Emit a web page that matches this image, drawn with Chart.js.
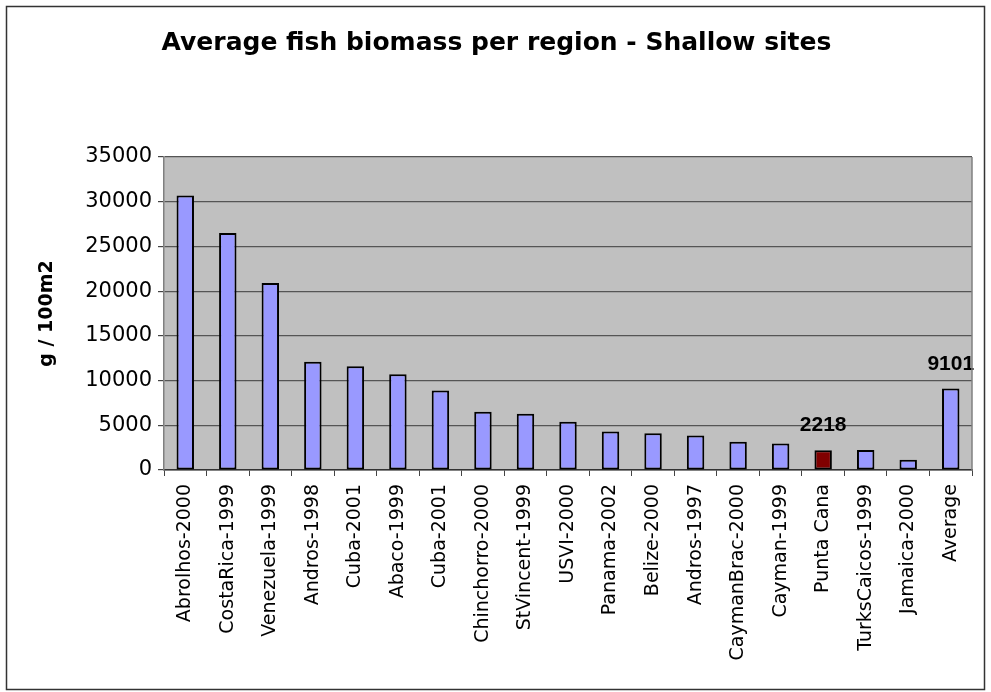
<!DOCTYPE html>
<html>
<head>
<meta charset="utf-8">
<title>Average fish biomass per region - Shallow sites</title>
<script src="https://cdn.jsdelivr.net/npm/chart.js@4.4.1/dist/chart.umd.min.js"></script>
<style>
  html, body { margin: 0; padding: 0; background: #ffffff; }
  #wrap { width: 991px; height: 692px; position: relative; }
</style>
</head>
<body>
<div id="wrap"><canvas id="chart" width="991" height="692"></canvas></div>
<script>
// Survey regions (with survey year), shallow sites
const regions = [
  'Abrolhos-2000', 'CostaRica-1999', 'Venezuela-1999', 'Andros-1998', 'Cuba-2001',
  'Abaco-1999', 'Cuba-2001', 'Chinchorro-2000', 'StVincent-1999', 'USVI-2000',
  'Panama-2002', 'Belize-2000', 'Andros-1997', 'CaymanBrac-2000', 'Cayman-1999',
  'Punta Cana', 'TurksCaicos-1999', 'Jamaica-2000', 'Average'
];

// Average fish biomass, g / 100m2
const biomass = [
  30700, 26500, 20900, 12100, 11600,
  10700, 8900, 6500, 6300, 5400,
  4300, 4100, 3850, 3150, 2950,
  2218, 2250, 1150, 9101
];

// Region drawn in the highlight colour
const highlightRegion = 'Punta Cana';

// Bars whose value is printed above them
const labelledRegions = ['Punta Cana', 'Average'];

// Y axis range and step
const yMin = 0;
const yMax = 35000;
const yStep = 5000;

const titleText = 'Average fish biomass per region - Shallow sites';
const yTitle = 'g / 100m2';

const barColors = regions.map(r => r === highlightRegion ? '#800000' : '#9999ff');

// White page, frame, grey plot area and the heading
const framePlugin = {
  id: 'frame',
  beforeDraw(chart) {
    const { ctx, chartArea: a } = chart;
    ctx.save();
    ctx.fillStyle = '#ffffff';
    ctx.fillRect(0, 0, chart.width, chart.height);
    ctx.fillStyle = '#c0c0c0';
    ctx.fillRect(a.left, a.top, a.right - a.left, a.bottom - a.top);
    ctx.restore();
  },
  afterDraw(chart) {
    const { ctx, chartArea: a } = chart;
    ctx.save();
    // plot area right edge
    ctx.strokeStyle = '#808080';
    ctx.lineWidth = 1.5;
    ctx.beginPath();
    ctx.moveTo(a.right, a.top);
    ctx.lineTo(a.right, a.bottom);
    ctx.stroke();
    // outer frame
    ctx.strokeStyle = '#333333';
    ctx.lineWidth = 1.5;
    ctx.strokeRect(6.5, 6.5, chart.width - 13, chart.height - 9);
    // heading
    ctx.fillStyle = '#000000';
    ctx.font = 'bold 25px "DejaVu Sans"';
    ctx.textAlign = 'center';
    ctx.textBaseline = 'alphabetic';
    ctx.fillText(titleText, chart.width / 2 + 1, 50);
    ctx.restore();
  }
};

// Values printed above selected bars
const valueLabelPlugin = {
  id: 'valueLabels',
  afterDatasetsDraw(chart) {
    const { ctx } = chart;
    const meta = chart.getDatasetMeta(0);
    ctx.save();
    ctx.fillStyle = '#000000';
    ctx.font = 'bold 21px "Liberation Sans"';
    ctx.textAlign = 'center';
    ctx.textBaseline = 'alphabetic';
    regions.forEach((r, i) => {
      if (!labelledRegions.includes(r)) return;
      const bar = meta.data[i];
      ctx.fillText(String(biomass[i]), bar.x, bar.y - 19);
    });
    ctx.restore();
  }
};

new Chart(document.getElementById('chart'), {
  type: 'bar',
  data: {
    labels: regions,
    datasets: [{
      data: biomass,
      backgroundColor: barColors,
      borderColor: '#000000',
      borderWidth: 2,
      borderSkipped: false,
      barPercentage: 0.41,
      categoryPercentage: 1.0
    }]
  },
  options: {
    responsive: false,
    animation: false,
    devicePixelRatio: 1,
    layout: { padding: { left: 0, right: 19, top: 157, bottom: 0 } },
    plugins: {
      legend: { display: false },
      title: { display: false },
      tooltip: { enabled: false }
    },
    scales: {
      x: {
        grid: {
          offset: true,
          drawOnChartArea: false,
          drawTicks: true,
          tickLength: 6,
          color: '#444444',
          lineWidth: 1
        },
        border: { color: '#333333', width: 1.5 },
        ticks: {
          color: '#000000',
          font: { family: 'DejaVu Sans', size: 19 },
          minRotation: 90,
          maxRotation: 90,
          autoSkip: false,
          padding: 8
        },
        afterFit(scale) { scale.height = 222; }
      },
      y: {
        min: yMin,
        max: yMax,
        grid: {
          color: '#555555',
          lineWidth: 1.2,
          drawTicks: true,
          tickLength: 6,
          tickColor: '#444444'
        },
        border: { color: '#808080', width: 1.5 },
        ticks: {
          stepSize: yStep,
          color: '#000000',
          font: { family: 'DejaVu Sans', size: 21 },
          padding: 6,
          callback: v => String(v)
        },
        title: {
          display: true,
          text: yTitle,
          color: '#000000',
          font: { family: 'DejaVu Sans', size: 19, weight: 'bold' },
          padding: { top: 36, bottom: 0 }
        },
        afterFit(scale) { scale.width = 164; }
      }
    }
  },
  plugins: [framePlugin, valueLabelPlugin]
});
</script>
</body>
</html>
